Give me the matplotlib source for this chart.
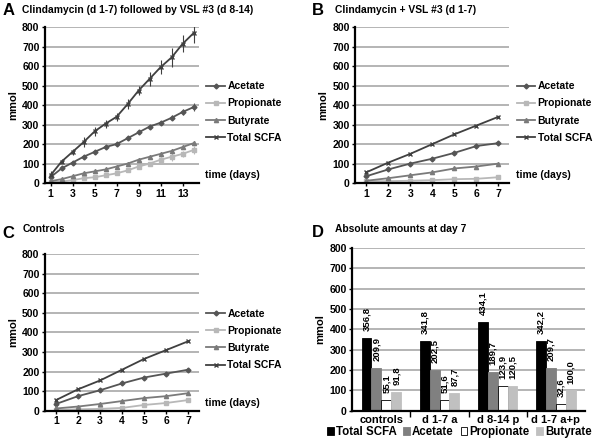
import numpy as np
import matplotlib
matplotlib.use("Agg")
import matplotlib.pyplot as plt

plt.rcParams['font.family'] = ['Liberation Sans', 'DejaVu Sans']
plt.rcParams['font.weight'] = 'bold'

# panel A: clindamycin d1-7, then VSL#3 d8-14
days_a = np.arange(1, 15)
a_total = [40, 110, 160, 210, 265, 305, 340, 405, 475, 535, 595, 645, 715, 770]
a_total_err = [20, 12, 15, 25, 25, 20, 20, 25, 25, 35, 35, 50, 45, 50]
a_acetate = [30, 75, 105, 135, 160, 185, 200, 230, 260, 290, 310, 335, 365, 390]
a_acetate_err = [8, 6, 8, 10, 8, 8, 8, 10, 10, 10, 10, 12, 15, 20]
a_propionate = [5, 8, 15, 25, 30, 40, 50, 65, 85, 100, 120, 135, 150, 170]
a_propionate_err = [3, 3, 5, 5, 6, 6, 6, 8, 10, 10, 15, 20, 15, 20]
a_butyrate = [10, 20, 35, 50, 60, 70, 85, 100, 120, 135, 150, 165, 185, 205]
a_butyrate_err = [3, 3, 5, 5, 5, 6, 6, 6, 8, 8, 10, 10, 10, 10]

# panel B: clindamycin + VSL#3 d1-7
days_b = np.arange(1, 8)
b_total = [55, 105, 150, 200, 250, 295, 340]
b_acetate = [35, 70, 100, 125, 155, 190, 205]
b_propionate = [10, 10, 12, 15, 20, 22, 30]
b_butyrate = [12, 25, 40, 55, 75, 85, 100]

# panel C: controls
c_total = [55, 110, 155, 210, 265, 310, 355]
c_acetate = [35, 75, 105, 140, 170, 190, 210]
c_propionate = [5, 8, 10, 15, 30, 40, 55]
c_butyrate = [12, 22, 35, 50, 65, 75, 90]

# panel D: day 7
groups = ['controls', 'd 1-7 a', 'd 8-14 p', 'd 1-7 a+p']
d_total = [356.8, 341.8, 434.1, 342.2]
d_acetate = [209.9, 202.5, 189.7, 209.7]
d_propionate = [55.1, 51.6, 123.9, 32.6]
d_butyrate = [91.8, 87.7, 120.5, 100.0]

col_ac = '#555555'
col_pr = '#b8b8b8'
col_bu = '#7a7a7a'
col_tot = '#404040'
grid_col = '#a0a0a0'

fig = plt.figure(figsize=(6, 4.38), dpi=100)


def style_axis(ax):
    ax.set_ylim(0, 800)
    ax.set_yticks(range(0, 801, 100))
    ax.yaxis.grid(True, color=grid_col, lw=1.1)
    ax.set_axisbelow(True)
    for s in ['top', 'right']:
        ax.spines[s].set_visible(False)
    ax.spines['left'].set_linewidth(1.6)
    ax.spines['bottom'].set_linewidth(1.6)
    ax.tick_params(labelsize=7.5, length=2, width=1, pad=2)
    ax.set_ylabel('mmol', fontsize=8, fontweight='bold', labelpad=3)


def line_panel(ax, x, tot, ac, pr, bu, errs=None, xticks=None):
    e = errs if errs else [None] * 4
    ax.errorbar(x, ac, yerr=e[0], color=col_ac, marker='D', ms=2.5, lw=1.3, elinewidth=0.8, label='Acetate')
    ax.errorbar(x, pr, yerr=e[1], color=col_pr, marker='s', ms=3, lw=1.3, elinewidth=0.8, label='Propionate')
    ax.errorbar(x, bu, yerr=e[2], color=col_bu, marker='^', ms=3, lw=1.3, elinewidth=0.8, label='Butyrate')
    ax.errorbar(x, tot, yerr=e[3], color=col_tot, marker='x', ms=3.5, lw=1.3, elinewidth=0.8, label='Total SCFA')
    ax.set_xlim(0.5, x[-1] + 0.5)
    ax.set_xticks(xticks if xticks is not None else x)
    style_axis(ax)
    h, l = ax.get_legend_handles_labels()
    ax.legend([hh[0] for hh in h], l, loc='center left', bbox_to_anchor=(1.0, 0.455),
              frameon=False, fontsize=7.5, handlelength=1.8, handletextpad=0.2,
              labelspacing=0.7, borderpad=0.2)
    ax.text(1.04, 0.05, 'time (days)', transform=ax.transAxes, fontsize=7.5,
            fontweight='bold', va='center')


axA = fig.add_axes([0.075, 0.582, 0.257, 0.356])
line_panel(axA, days_a, a_total, a_acetate, a_propionate, a_butyrate,
           errs=[a_acetate_err, a_propionate_err, a_butyrate_err, a_total_err],
           xticks=[1, 3, 5, 7, 9, 11, 13])

axB = fig.add_axes([0.592, 0.582, 0.257, 0.356])
line_panel(axB, days_b, b_total, b_acetate, b_propionate, b_butyrate)

axC = fig.add_axes([0.075, 0.062, 0.257, 0.358])
line_panel(axC, days_b, c_total, c_acetate, c_propionate, c_butyrate)

axD = fig.add_axes([0.587, 0.062, 0.388, 0.372])
xg = np.arange(len(groups))
w = 0.17
series = [(d_total, 'black', 'black', 'Total SCFA'),
          (d_acetate, '#808080', '#808080', 'Acetate'),
          (d_propionate, 'white', 'black', 'Propionate'),
          (d_butyrate, '#c0c0c0', '#c0c0c0', 'Butyrate')]
for i, (vals, fc, ec, lab) in enumerate(series):
    pos = xg + (i - 1.5) * w
    axD.bar(pos, vals, w, color=fc, edgecolor=ec, lw=0.6, label=lab)
    for p, v in zip(pos, vals):
        axD.annotate(f'{v:.1f}'.replace('.', ','), (p, v), xytext=(0, 5), textcoords='offset points',
                     rotation=90, ha='center', va='bottom', fontsize=6.8, fontweight='bold')
axD.set_xlim(-0.5, len(groups) - 0.5)
axD.set_xticks(xg)
axD.set_xticks(np.arange(0.5, len(groups) - 0.5), minor=True)
style_axis(axD)
axD.set_xticklabels(groups, fontsize=8)
axD.tick_params(axis='x', which='major', length=0, pad=3)
axD.tick_params(axis='x', which='minor', length=4, width=1)
axD.legend(loc='center', bbox_to_anchor=(0.46, -0.13), ncol=4, frameon=False, fontsize=8.3,
           handlelength=0.6, handleheight=0.6, handletextpad=0.15, columnspacing=0.6, borderpad=0)

# panel letters and titles
fig.text(0.004, 0.977, 'A', fontsize=12, fontweight='bold', va='center')
fig.text(0.037, 0.978, 'Clindamycin (d 1-7) followed by VSL #3 (d 8-14)', fontsize=7.4,
         fontweight='bold', va='center')
fig.text(0.52, 0.977, 'B', fontsize=12, fontweight='bold', va='center')
fig.text(0.558, 0.978, 'Clindamycin + VSL #3 (d 1-7)', fontsize=7.4, fontweight='bold', va='center')
fig.text(0.004, 0.468, 'C', fontsize=12, fontweight='bold', va='center')
fig.text(0.037, 0.477, 'Controls', fontsize=7.4, fontweight='bold', va='center')
fig.text(0.52, 0.470, 'D', fontsize=12, fontweight='bold', va='center')
fig.text(0.558, 0.477, 'Absolute amounts at day 7', fontsize=7.4, fontweight='bold', va='center')

fig.savefig('out.png', dpi=100)
